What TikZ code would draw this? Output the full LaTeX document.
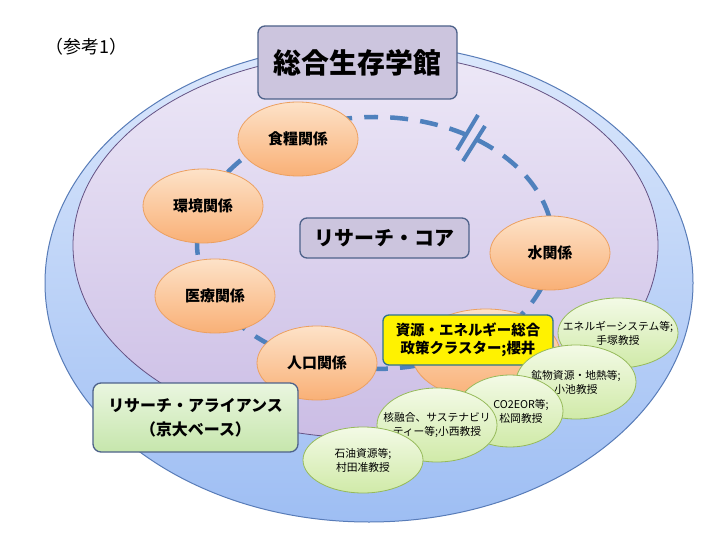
\documentclass[tikz,border=0pt]{standalone}
\usepackage{fontspec}
\setmainfont{Noto Sans CJK JP}
\usetikzlibrary{shapes.geometric,backgrounds}
\definecolor{outertop}{RGB}{220,232,252}
\definecolor{outerbot}{RGB}{158,190,243}
\definecolor{outerline}{RGB}{88,124,184}
\definecolor{innertop}{RGB}{237,232,247}
\definecolor{innerbot}{RGB}{203,189,229}
\definecolor{innerline}{RGB}{100,82,132}
\definecolor{orangetop}{RGB}{253,226,200}
\definecolor{orangebot}{RGB}{249,176,118}
\definecolor{orangeline}{RGB}{236,160,96}
\definecolor{greentop}{RGB}{243,250,230}
\definecolor{greenbot}{RGB}{208,234,168}
\definecolor{greenline}{RGB}{150,186,90}
\definecolor{boxfill}{RGB}{204,197,222}
\definecolor{boxline}{RGB}{78,98,138}
\definecolor{alltop}{RGB}{234,246,224}
\definecolor{allbot}{RGB}{198,230,172}
\definecolor{yellowline}{RGB}{48,114,140}
\definecolor{lineblue}{RGB}{79,129,189}

\begin{document}
\begin{tikzpicture}[x=1bp,y=-1bp,
    kankei/.style={ellipse,draw=orangeline,line width=0.8bp,top color=orangetop,bottom color=orangebot,
      minimum width=120bp,minimum height=74bp,inner sep=0pt,font=\fontsize{15}{18}\selectfont\bfseries},
    kyoju/.style={ellipse,draw=greenline,line width=0.8bp,top color=greentop,bottom color=greenbot,
      minimum width=120bp,minimum height=72bp,inner sep=-16bp,align=center,font=\fontsize{10.8}{14}\selectfont},
    kyojutext/.style={inner sep=0pt,align=center,font=\fontsize{10.8}{14}\selectfont},
    purplebox/.style={rectangle,rounded corners=7bp,draw=boxline,line width=1.3bp,fill=boxfill,inner sep=0pt},
    ring/.style={draw=lineblue,line width=4.5bp,dash pattern=on 18bp off 12.2bp,dash phase=15bp}]
	%%%%% START %%%%%

	\useasboundingbox (0,0) rectangle (720,540);

	\begin{pgfonlayer}{background}
		\fill[white] (0,0) rectangle (720,540);
		\draw[draw=outerline,line width=1bp,top color=outertop,bottom color=outerbot] (369,283) ellipse [x radius=324,y radius=239];
		\draw[draw=innerline,line width=0.8bp,top color=innertop,bottom color=innerbot] (365.5,245.5) ellipse [x radius=292.5,y radius=192.5];

		% ring behind the circle of themes
		\draw[ring] (375,117) arc [start angle=-90,end angle=270,x radius=178,y radius=126];
		\draw[draw=lineblue,line width=4bp] (478,115) -- (457,150) (485,126) -- (463,161);
	\end{pgfonlayer}

	\node[font=\fontsize{18}{20}\selectfont] (sanko) at (86.5,46.5) {（参考1）};

	\node[purplebox,minimum width=199bp,minimum height=73bp,font=\fontsize{28}{32}\selectfont\bfseries] (kan) at (357.5,62.5) {総合生存学館};
	\node[purplebox,minimum width=169bp,minimum height=40bp,font=\fontsize{20}{24}\selectfont\bfseries] (core) at (384.5,238) {リサーチ・コア};

	\node[kankei] (shokuryo) at (298,139) {食糧関係};
	\node[kankei] (kankyo) at (203,206) {環境関係};
	\node[kankei] (iryo) at (215,296) {医療関係};
	\node[kankei] (jinko) at (317,363) {人口関係};
	\node[kankei] (sui) at (550,253) {水関係};
	\node[kankei,minimum width=148bp,minimum height=90bp] (shigen) at (486,354) {};

	\node[rectangle,rounded corners=6bp,draw=yellowline,line width=1.3bp,fill=yellow,minimum width=170bp,minimum height=50bp,
	  inner sep=0pt,align=center,font=\fontsize{14.5}{18}\selectfont\bfseries] (sakurai) at (468,340) {資源・エネルギー総合\\政策クラスター;櫻井};

	\node[kyoju,minimum height=70bp] (tezuka) at (618,333) {エネルギーシステム等;\\手塚教授};
	\node[kyoju,minimum height=74bp] (koike) at (576,382) {鉱物資源・地熱等;\\小池教授};
	\node[kyoju,minimum width=106bp,label={[kyojutext,xshift=11bp]center:CO2EOR等;\\松岡教授}] (matsuoka) at (510,411) {};
	\node[kyoju,minimum height=74bp] (konishi) at (437,425) {核融合、サステナビリ\\ティー等;小西教授};
	\node[kyoju,minimum height=66bp] (murata) at (363,460) {石油資源等;\\村田准教授};

	\node[rectangle,rounded corners=8bp,draw=boxline,line width=1.3bp,top color=alltop,bottom color=allbot,minimum width=205bp,minimum height=69bp,
	  inner sep=0pt,align=center,font=\fontsize{16}{24}\selectfont\bfseries] (alliance) at (195.5,417.5) {リサーチ・アライアンス\\（京大ベース）};

	%%%%% END %%%%%
\end{tikzpicture}
\end{document}
